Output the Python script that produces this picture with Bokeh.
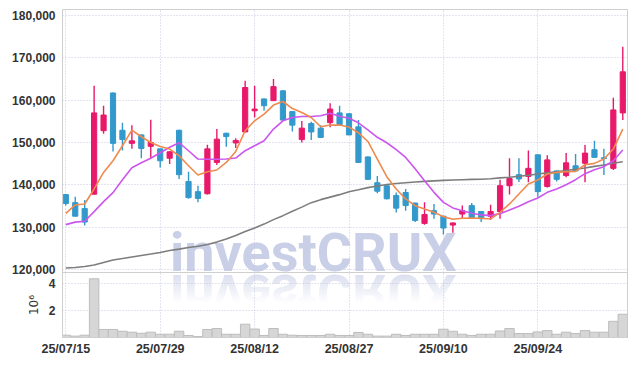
from bokeh.plotting import figure
from bokeh.models import (Range1d, FixedTicker, NumeralTickFormatter, Div,
                          ColumnDataSource, Grid, CustomJSTickFormatter)
from bokeh.layouts import column
from bokeh.embed import file_html
from bokeh.resources import INLINE

dates = ["25/07/15","25/07/16","25/07/17","25/07/18","25/07/21","25/07/22","25/07/23","25/07/24","25/07/25","25/07/28",
         "25/07/29","25/07/30","25/07/31","25/08/01","25/08/04","25/08/05","25/08/06","25/08/07","25/08/08","25/08/11",
         "25/08/12","25/08/13","25/08/14","25/08/18","25/08/19","25/08/20","25/08/21","25/08/22","25/08/25","25/08/26",
         "25/08/27","25/08/28","25/08/29","25/09/01","25/09/02","25/09/03","25/09/04","25/09/05","25/09/08","25/09/09",
         "25/09/10","25/09/11","25/09/12","25/09/15","25/09/16","25/09/17","25/09/18","25/09/19","25/09/22","25/09/23",
         "25/09/24","25/09/25","25/09/26","25/09/29","25/09/30","25/10/01","25/10/02","25/10/10","25/10/13","25/10/14"]

opens = [137700,135800,134400,137800,152800,161700,152900,149800,151800,149100,
         148500,146300,152900,140800,138400,137900,145300,152200,149900,152500,
         157500,160300,159900,162200,157300,150700,154500,153400,154700,157000,
         156800,153700,146600,140500,139800,137500,138200,135700,130900,133900,
         132600,130500,133100,135100,133700,132600,133700,139800,142400,142000,
         147100,139600,143300,142200,144500,145100,148300,146400,143900,157000]
highs = [137800,137200,136400,163400,158700,161800,154700,154100,151900,155400,
         148600,148000,153000,143100,139800,149500,153200,152300,151000,164600,
         163400,160400,165000,162400,157400,155100,154900,154100,159300,158700,
         156900,155300,146700,142100,140200,138200,139000,135800,135900,135500,
         132700,131100,135100,135700,133800,135300,141200,146300,146300,148100,
         147200,147000,143400,147500,147300,149400,150400,148500,160600,172600]
lows = [135100,132500,130400,137700,152100,147900,148100,148500,146300,146300,
        144100,144900,141400,136700,135900,137700,144700,149000,148700,152400,
        155900,157500,159800,155100,152600,150000,150600,151100,153600,154000,
        151700,145200,141200,138000,136600,133500,133900,131200,130600,132000,
        128300,128700,132200,132200,131200,131700,132000,137700,140700,140600,
        137200,139400,140800,141800,143200,140600,146400,142300,143500,155300]
closes = [135600,132600,131200,157000,156500,149800,150700,150400,148600,150000,
          145700,147800,142400,137000,136800,148500,150800,151400,150500,163000,
          157900,158700,163200,155300,154100,153400,152500,151200,157900,154200,
          151800,145300,141300,138500,136700,134500,135100,131600,133000,133100,
          129800,131000,133900,132300,132000,133700,139800,141500,141400,143900,
          138400,145900,141300,145200,143300,147500,146500,146200,157700,166700]
volumes = [170000,100000,170000,4320000,590000,590000,460000,390000,310000,390000,
           240000,240000,460000,150000,70000,590000,660000,240000,240000,980000,
           620000,150000,660000,240000,170000,150000,150000,150000,240000,150000,
           150000,370000,240000,100000,100000,240000,150000,240000,240000,240000,
           610000,460000,240000,150000,240000,240000,480000,660000,290000,290000,
           410000,510000,240000,390000,290000,510000,390000,390000,1190000,1710000]
ma5 = [133280,135260,135490,139030,142940,145700,149240,152940,151360,150020,
       149070,148460,146880,144520,142330,143110,143510,145300,147900,152780,
       155130,156710,158840,159690,158030,157090,155910,153720,154120,154120,
       153650,152300,150250,146100,141930,139030,136670,135090,134310,133510,
       132500,131860,132100,132190,132100,131950,133510,135490,137850,140210,
       141150,142570,142940,143110,143180,144760,145070,146100,148460,153180]
ma10 = [130610,131200,131390,133680,136030,138160,141220,144050,145230,146290,
        147590,148890,149950,148060,146100,146060,146060,146100,146340,148060,
        149240,150420,153180,155130,155910,156150,156150,156310,156900,156200,
        155720,154660,153010,151240,149950,148300,146480,143820,140990,138230,
        135870,134550,133910,133280,132900,132730,133200,134080,134930,136030,
        136910,138230,139030,140040,141220,142640,143580,144290,145700,148230]
ma_long = [120350,120470,120710,121060,121650,122240,122590,122950,123300,123650,
           124010,124480,124830,125190,125490,125900,126480,127190,128020,128960,
           129830,130730,131790,132730,133790,134740,135800,136510,137100,137690,
           138390,138860,139340,139740,140090,140330,140510,140680,140820,140940,
           141060,141150,141220,141290,141340,141460,141650,141810,142050,142280,
           142570,142830,143110,143390,143670,143980,144360,144710,145090,145470]

price_ticks = [120000, 130000, 140000, 150000, 160000, 170000, 180000]
volume_ticks = [2000000, 4000000]
date_ticks = [0, 10, 20, 30, 40, 50]

UP = "#e8196a"
DOWN = "#3399cc"
GRID = "#c6c9de"
AXIS = "#cfcfcf"
TICKFONT = "Liberation Sans"
WM_COLOR = "#c9cfe6"

idx = list(range(len(dates)))
colors = [UP if c >= o else DOWN for o, c in zip(opens, closes)]
src = ColumnDataSource(dict(
    x=idx, o=opens, h=highs, l=lows, c=closes,
    top=[max(o, c) for o, c in zip(opens, closes)],
    bot=[min(o, c) for o, c in zip(opens, closes)],
    color=colors, vol=volumes, ma5=ma5, ma10=ma10, mal=ma_long))

xr = Range1d(-0.35, 59.5)

# price pane: transparent so the watermark layer behind it shows through;
# its canvas reaches 6px below the frame and the volume pane overlaps that strip
p = figure(frame_width=565, frame_height=263, x_range=xr, y_range=Range1d(119300, 181420),
           output_backend="svg", toolbar_location=None, x_axis_location=None,
           min_border_left=62, min_border_right=4, min_border_top=9, min_border_bottom=6)
p.border_fill_alpha = 0
p.background_fill_alpha = 0
p.outline_line_color = AXIS
p.xgrid.visible = False
p.add_layout(Grid(dimension=0, ticker=FixedTicker(ticks=date_ticks), grid_line_color=GRID,
                  grid_line_dash="1 2", grid_line_width=1))
p.ygrid.ticker = FixedTicker(ticks=price_ticks)
p.ygrid.grid_line_color = GRID
p.ygrid.grid_line_dash = "1 2"
ya = p.yaxis[0]
ya.ticker = FixedTicker(ticks=price_ticks)
ya.formatter = NumeralTickFormatter(format="0,0")
ya.major_tick_line_color = None
ya.minor_tick_line_color = None
ya.major_tick_out = 0
ya.major_tick_in = 0
ya.axis_line_color = AXIS
ya.major_label_standoff = 7
ya.major_label_text_font = TICKFONT
ya.major_label_text_font_size = "12px"
ya.major_label_text_font_style = "bold"
ya.major_label_text_color = "#333333"

p.segment(x0="x", y0="h", x1="x", y1="l", color="color", line_width=1.4, source=src)
p.vbar(x="x", top="top", bottom="bot", width=0.55, fill_color="color", line_color="color",
       line_width=1, source=src)
p.line("x", "mal", color="#7d7d7d", line_width=1.6, source=src)
p.line("x", "ma10", color="#cc55ee", line_width=1.6, source=src)
p.line("x", "ma5", color="#ef8a4e", line_width=1.6, source=src)

# watermark layer behind both panes; its fading mirror image is a CSS box reflection
wm_css = (".m { font-family: Roboto, sans-serif; font-weight: bold; font-size: 54px;"
          " height: 40px; line-height: 40px; color: " + WM_COLOR + "; white-space: nowrap;"
          " -webkit-box-reflect: below 0px linear-gradient(to bottom, transparent 25%,"
          " rgba(255,255,255,0.7) 100%); }")
wm = Div(text='<div class="m">investCRUX</div>',
         width=330, height=40, margin=(-45, 0, -1, 0),
         styles={"overflow": "visible", "position": "relative", "z-index": "-1",
                 "pointer-events": "none", "transform": "translateX(170px)"},
         stylesheets=[wm_css])

v = figure(frame_width=565, frame_height=65, x_range=xr, y_range=Range1d(0, 4780000),
           output_backend="svg", toolbar_location=None, margin=(0, 0, 0, 0),
           min_border_left=62, min_border_right=4, min_border_top=0, min_border_bottom=2)
v.border_fill_alpha = 0
v.background_fill_alpha = 0
v.outline_line_color = AXIS
v.vbar(x="x", top="vol", width=1.0, fill_color="#d6d6d6", line_color="#bdbdbd",
       line_width=1, source=src)
v.xgrid.ticker = FixedTicker(ticks=date_ticks)
v.ygrid.ticker = FixedTicker(ticks=volume_ticks)
for g in (v.xgrid, v.ygrid):
    g.grid_line_color = GRID
    g.grid_line_dash = "1 2"
xa = v.xaxis[0]
xa.ticker = FixedTicker(ticks=date_ticks)
xa.major_label_overrides = {i: dates[i] for i in date_ticks}
va = v.yaxis[0]
va.ticker = FixedTicker(ticks=volume_ticks)
va.formatter = CustomJSTickFormatter(code="return (tick / 1e6).toFixed(0);")
va.axis_label = "10⁶"
va.axis_label_standoff = 5
va.axis_label_text_font = "DejaVu Sans"
va.axis_label_text_font_style = "normal"
va.axis_label_text_font_size = "12px"
va.axis_label_text_color = "#333333"
for ax in (xa, va):
    ax.major_tick_line_color = None
    ax.minor_tick_line_color = None
    ax.major_tick_out = 0
    ax.major_tick_in = 0
    ax.axis_line_color = AXIS
    ax.major_label_text_font = TICKFONT
    ax.major_label_text_font_style = "bold"
    ax.major_label_text_color = "#333333"
xa.major_label_standoff = 4
xa.major_label_text_font_size = "12.5px"
va.major_label_standoff = 7
va.major_label_text_font_size = "12px"

layout = column(p, wm, v, spacing=0)
open("out.html", "w").write(file_html(layout, INLINE))
